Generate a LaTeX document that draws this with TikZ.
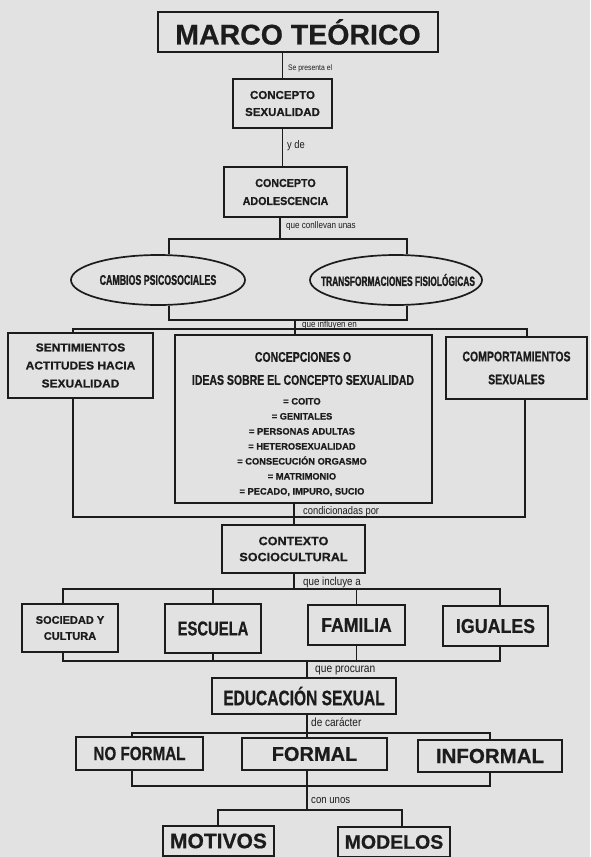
\documentclass[tikz,border=0pt]{standalone}
\usepackage{fontspec}
\setmainfont{Liberation Sans}
\usetikzlibrary{shapes.geometric}
\definecolor{bg}{HTML}{E2E2E2}
\definecolor{ink}{HTML}{1C1C1C}
\newcommand\fsz[2]{\fontsize{#1}{#2}\selectfont}
\newcommand\fstr[1]{\addfontfeatures{FakeStretch=#1}}
\newcommand\fhv[1]{\addfontfeatures{FakeBold=#1}}
\begin{document}
\begin{tikzpicture}[x=1pt,y=-1pt,
  box/.style={draw=ink, line width=1.7pt, inner sep=0pt, align=center, text=ink},
  oval/.style={ellipse, draw=ink, line width=1.7pt, inner sep=0pt, text=ink},
  link/.style={draw=ink, line width=1.1pt},
  lbl/.style={anchor=west, inner sep=0pt, text=ink},
  inner/.style={inner sep=0pt, align=center, text=ink}]
\useasboundingbox (0,0) rectangle (590,857);
\fill[bg] (0,0) rectangle (590,857);

% boxes
\node[box, minimum width=280pt, minimum height=40pt, font={\bfseries\fsz{28.5}{30}\fhv{0.6}}] (marco) at (298,32) {MARCO TEÓRICO};
\node[box, minimum width=99pt, minimum height=49pt, font={\bfseries\fsz{11.5}{17}\fhv{0.8}}] (sex) at (282.5,103.5) {CONCEPTO\\SEXUALIDAD};
\node[box, minimum width=123pt, minimum height=50pt, font={\bfseries\fsz{11.5}{18}\fstr{0.93}\fhv{0.8}}] (ado) at (285.5,192) {CONCEPTO\\ADOLESCENCIA};
\node[oval, minimum width=174pt, minimum height=50pt] (cam) at (158,280) {};
\node[inner, font={\bfseries\fsz{14}{14}\fstr{0.63}\fhv{1.3}}] (camt) at (cam.center) {CAMBIOS PSICOSOCIALES};
\node[oval, minimum width=172pt, minimum height=50pt] (tra) at (396,280) {};
\node[inner, font={\bfseries\fsz{13.5}{13.5}\fstr{0.62}\fhv{1.3}}] (trat) at ([xshift=2pt]tra.center) {TRANSFORMACIONES FISIOLÓGICAS};
\node[box, minimum width=145pt, minimum height=65pt, font={\bfseries\fsz{11.5}{18}\fstr{1.04}\fhv{0.8}}] (sent) at (80.5,365.5) {SENTIMIENTOS\\ACTITUDES HACIA\\SEXUALIDAD};
\node[box, minimum width=257pt, minimum height=168pt] (conc) at (303.5,419) {};
\node[inner, font={\bfseries\fsz{14}{23}\fstr{0.75}\fhv{0.8}}] (conct) at (303,368.5) {CONCEPCIONES O\\IDEAS SOBRE EL CONCEPTO SEXUALIDAD};
\node[inner, font={\bfseries\fsz{9.3}{15}\fhv{0.8}}] (concl) at (302,447) {= COITO\\= GENITALES\\= PERSONAS ADULTAS\\= HETEROSEXUALIDAD\\= CONSECUCIÓN ORGASMO\\= MATRIMONIO\\= PECADO, IMPURO, SUCIO};
\node[box, minimum width=141pt, minimum height=62pt, font={\bfseries\fsz{14}{23}\fstr{0.75}\fhv{0.8}}] (comp) at (516.5,368) {COMPORTAMIENTOS\\SEXUALES};
\node[box, minimum width=143pt, minimum height=48pt, font={\bfseries\fsz{12}{16}\fstr{1.05}\fhv{0.8}}] (ctx) at (293.5,549) {CONTEXTO\\SOCIOCULTURAL};
\node[box, minimum width=96pt, minimum height=48pt, font={\bfseries\fsz{11}{16}\fhv{0.8}}] (soc) at (70,628) {SOCIEDAD Y\\CULTURA};
\node[box, minimum width=96pt, minimum height=49pt, font={\bfseries\fsz{20}{20}\fstr{0.74}\fhv{0.6}}] (esc) at (213,628.5) {ESCUELA};
\node[box, minimum width=97pt, minimum height=40pt, font={\bfseries\fsz{20}{20}\fstr{0.88}\fhv{0.6}}] (fam) at (356.5,625) {FAMILIA};
\node[box, minimum width=105pt, minimum height=40pt, font={\bfseries\fsz{20}{20}\fstr{0.89}\fhv{0.6}}] (igu) at (495.5,626) {IGUALES};
\node[box, minimum width=184pt, minimum height=36pt, font={\bfseries\fsz{21}{21}\fstr{0.74}\fhv{0.6}}] (edu) at (304,696) {EDUCACIÓN SEXUAL};
\node[box, minimum width=127pt, minimum height=33pt, font={\bfseries\fsz{19}{19}\fstr{0.8}\fhv{0.6}}] (nof) at (139.5,753.5) {NO FORMAL};
\node[box, minimum width=145pt, minimum height=32pt, font={\bfseries\fsz{20}{20}\fhv{0.6}}] (for) at (314.5,754) {FORMAL};
\node[box, minimum width=144pt, minimum height=32pt, font={\bfseries\fsz{20.5}{20.5}\fhv{0.6}}] (inf) at (490,756) {INFORMAL};
\node[box, minimum width=111pt, minimum height=30pt, font={\bfseries\fsz{21}{21}\fhv{0.6}}] (mot) at (218.5,841) {MOTIVOS};
\node[box, minimum width=112pt, minimum height=30pt, font={\bfseries\fsz{19.5}{19.5}\fhv{0.6}}] (mod) at (394,842) {MODELOS};

% connectors
\draw[link] (marco.south -| sex.north) -- (sex.north);
\draw[link] (sex.south) -- (sex.south |- ado.north);
\coordinate (a1) at (280,239);
\draw[link] (ado.south -| a1) -- (a1);
\coordinate (eL) at (169,239); \coordinate (eR) at (407,239);
\draw[link] (eL |- cam.north) -- (eL) -- (eR) -- (eR |- tra.north);
\coordinate (fL) at (169,320); \coordinate (fR) at (407,320);
\draw[link] (eL |- cam.south) -- (fL) -- (fR) -- (fR |- tra.south);
\coordinate (f1) at (295,320); \coordinate (g1) at (295,329);
\draw[link] (f1) -- (g1);
\coordinate (gL) at (73,329); \coordinate (gR) at (527,329);
\draw[link] (gL |- sent.north) -- (gL) -- (gR) -- (gR |- comp.north);
\draw[link] (g1) -- (g1 |- conc.north);
\coordinate (hL) at (73,517); \coordinate (hR) at (525,517); \coordinate (h1) at (294,517);
\draw[link] (hL |- sent.south) -- (hL) -- (hR) -- (hR |- comp.south);
\draw[link] (h1 |- conc.south) -- (h1) -- (h1 |- ctx.north);
\coordinate (k1) at (294,589); \coordinate (kL) at (63,589); \coordinate (kR) at (500,589);
\draw[link] (ctx.south -| k1) -- (k1);
\draw[link] (kL |- soc.north) -- (kL) -- (kR) -- (kR |- igu.north);
\draw[link] (esc.north |- kL) -- (esc.north);
\draw[link] (fam.north |- kL) -- (fam.north);
\coordinate (mL) at (63,661); \coordinate (mR) at (500,661); \coordinate (m1) at (307,661);
\draw[link] (mL |- soc.south) -- (mL) -- (mR) -- (mR |- igu.south);
\draw[link] (esc.south) -- (esc.south |- mL);
\draw[link] (fam.south) -- (fam.south |- mL);
\draw[link] (m1) -- (m1 |- edu.north);
\coordinate (n1) at (307,733); \coordinate (nL) at (132,733); \coordinate (nR) at (490,733);
\draw[link] (edu.south -| n1) -- (n1);
\draw[link] (nL |- nof.north) -- (nL) -- (nR) -- (nR |- inf.north);
\draw[link] (n1) -- (n1 |- for.north);
\coordinate (pL) at (132,786); \coordinate (pR) at (490,786);
\draw[link] (pL |- nof.south) -- (pL) -- (pR) -- (pR |- inf.south);
\coordinate (q1) at (307,810); \coordinate (qL) at (218,810); \coordinate (qR) at (402,810);
\draw[link] (for.south -| q1) -- (q1);
\draw[link] (qL |- mot.north) -- (qL) -- (qR) -- (qR |- mod.north);

% labels
\node[lbl, font={\fsz{8}{8}\fstr{0.85}}] (l1) at (288,68) {Se presenta el};
\node[lbl, font={\fsz{11}{11}\fstr{0.85}}] (l2) at (287,146) {y de};
\node[lbl, font={\fsz{9.5}{9.5}\fstr{0.85}}] (l3) at (286,226) {que conllevan unas};
\node[lbl, font={\fsz{9.5}{9.5}\fstr{0.85}}] (l4) at (302,325) {que influyen en};
\node[lbl, font={\fsz{11}{11}\fstr{0.85}}] (l5) at (303,512) {condicionadas por};
\node[lbl, font={\fsz{11.5}{11.5}\fstr{0.85}}] (l6) at (303,583) {que incluye a};
\node[lbl, font={\fsz{12}{12}\fstr{0.85}}] (l7) at (315,671) {que procuran};
\node[lbl, font={\fsz{11.8}{11.8}\fstr{0.85}}] (l8) at (311,722) {de carácter};
\node[lbl, font={\fsz{11.3}{11.3}\fstr{0.85}}] (l9) at (311,801) {con unos};
\end{tikzpicture}
\end{document}
